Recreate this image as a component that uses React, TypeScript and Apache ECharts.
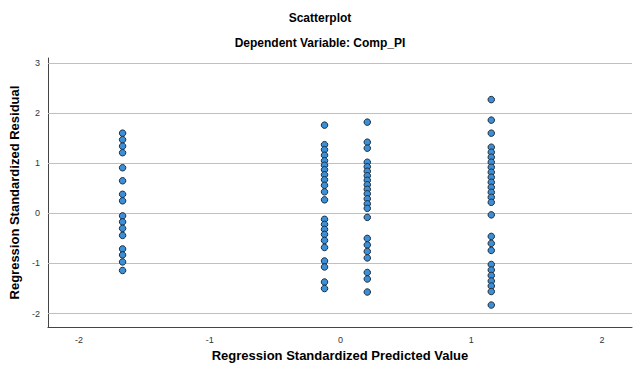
import React, { useEffect, useRef } from "react";
import * as echarts from "echarts";

// Predicted values (x) for each vertical column of points
const colX = [-1.666, -0.122, 0.205, 1.153];

// Standardized residuals (y) for each column
const col1Res = [1.6, 1.47, 1.34, 1.21, 0.91, 0.65, 0.38, 0.25, -0.05, -0.17, -0.3, -0.44, -0.71, -0.83, -0.97, -1.14];
const col2Res = [1.76, 1.37, 1.27, 1.16, 1.05, 0.96, 0.87, 0.77, 0.67, 0.56, 0.43, 0.27, -0.12, -0.22, -0.32, -0.42, -0.54, -0.68, -0.95, -1.07, -1.37, -1.5];
const col3Res = [1.82, 1.42, 1.3, 1.02, 0.93, 0.84, 0.75, 0.66, 0.57, 0.48, 0.39, 0.29, 0.19, 0.1, -0.08, -0.5, -0.63, -0.76, -0.89, -1.18, -1.31, -1.57];
const col4Res = [2.27, 1.86, 1.6, 1.32, 1.22, 1.12, 1.02, 0.92, 0.82, 0.72, 0.62, 0.52, 0.42, 0.32, 0.22, -0.03, -0.46, -0.6, -0.74, -1.02, -1.13, -1.24, -1.35, -1.45, -1.56, -1.83];

const xTicks = [-2, -1, 0, 1, 2];
const yTicks = [-2, -1, 0, 1, 2, 3];

const FONT = "'Liberation Sans', Arial, sans-serif";

export default function App() {
  const ref = useRef<HTMLDivElement>(null);
  useEffect(() => {
    if (!ref.current) return;
    const chart = echarts.init(ref.current, null, { renderer: "svg" });
    const cols = [col1Res, col2Res, col3Res, col4Res];
    const points: number[][] = [];
    cols.forEach((c, i) => c.forEach((v) => points.push([colX[i], v])));
    chart.setOption({
      animation: false,
      backgroundColor: "#ffffff",
      title: [
        {
          text: "Scatterplot",
          left: "center",
          top: 7,
          textStyle: { fontFamily: FONT, fontSize: 12, fontWeight: "bold", color: "#000" },
        },
        {
          text: "Dependent Variable: Comp_PI",
          left: "center",
          top: 32,
          textStyle: { fontFamily: FONT, fontSize: 12, fontWeight: "bold", color: "#000" },
        },
      ],
      grid: { left: 47, right: 8, top: 58, bottom: 39, containLabel: false },
      xAxis: {
        type: "value",
        min: -2.237,
        max: 2.229,
        name: "Regression Standardized Predicted Value",
        nameLocation: "middle",
        nameGap: 20,
        nameTextStyle: { fontFamily: FONT, fontSize: 13, fontWeight: "bold", color: "#000", verticalAlign: "top" },
        axisLine: { show: true, onZero: false, lineStyle: { color: "#444", width: 1 } },
        axisTick: { show: false },
        splitLine: { show: false },
        axisLabel: {
          customValues: xTicks,
          fontFamily: FONT,
          fontSize: 9,
          color: "#333",
          margin: 8,
        },
      },
      yAxis: {
        type: "value",
        min: -2.27,
        max: 3.1,
        name: "Regression Standardized Residual",
        nameLocation: "middle",
        nameGap: 15,
        nameTextStyle: { fontFamily: FONT, fontSize: 13, fontWeight: "bold", color: "#000" },
        axisLine: { show: true, onZero: false, lineStyle: { color: "#444", width: 1 } },
        axisTick: { show: false },
        splitLine: { show: false },
        axisLabel: {
          customValues: yTicks,
          fontFamily: FONT,
          fontSize: 9,
          color: "#333",
          margin: 8,
        },
      },
      series: [
        {
          type: "scatter",
          data: points,
          symbol: "circle",
          symbolSize: 6.5,
          itemStyle: { color: "#3c8fd6", borderColor: "#1e2e3e", borderWidth: 1, opacity: 1 },
          z: 3,
          markLine: {
            silent: true,
            symbol: "none",
            label: { show: false },
            lineStyle: { color: "#c0c0c0", type: "solid", width: 1 },
            data: yTicks.map((v) => ({ yAxis: v })),
            z: 1,
          },
        },
      ],
    });
    return () => chart.dispose();
  }, []);
  return (
    <div
      ref={ref}
      style={{ position: "fixed", left: 0, top: 0, width: 640, height: 367 }}
    />
  );
}
